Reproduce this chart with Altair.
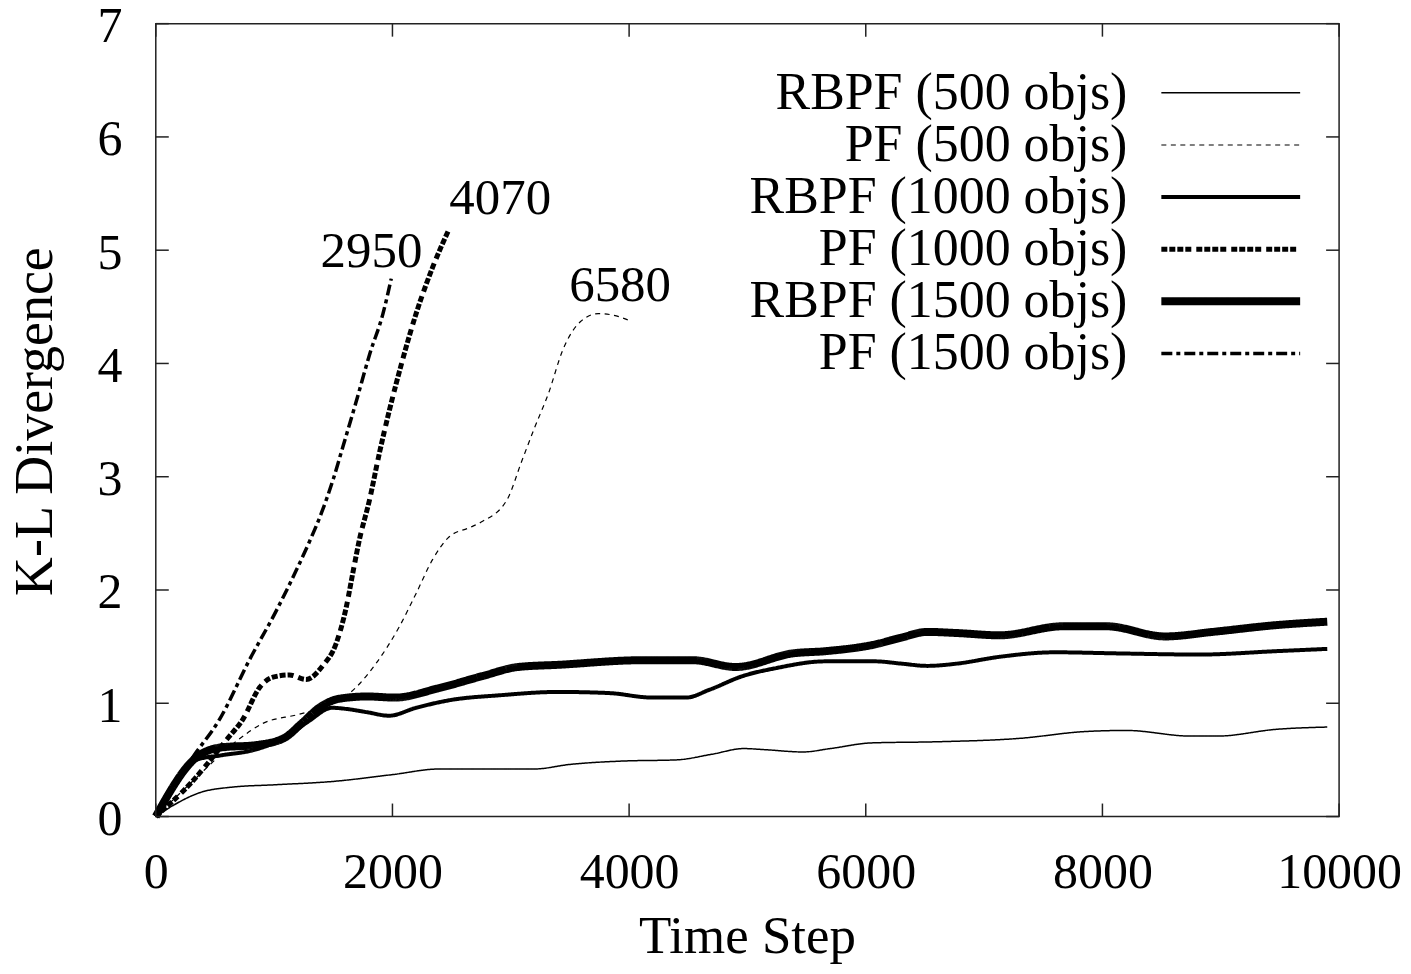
import altair as alt
import pandas as pd

# ---------------- data ----------------
series_names = ["RBPF (500 objs)", "PF (500 objs)", "RBPF (1000 objs)",
                "PF (1000 objs)", "RBPF (1500 objs)", "PF (1500 objs)"]

rbpf500_x = [0, 150, 370, 650, 1000, 1500, 2000, 2400, 2850, 3200, 3500, 3950, 4400,
             4700, 4970, 5150, 5470, 5700, 6050, 6600, 7300, 7850, 8200, 8750, 8970, 9470, 9900]
rbpf500_y = [0, 0.10, 0.21, 0.26, 0.28, 0.31, 0.37, 0.42, 0.42, 0.42, 0.46, 0.49, 0.50,
             0.55, 0.60, 0.59, 0.57, 0.60, 0.65, 0.66, 0.69, 0.75, 0.76, 0.71, 0.71, 0.77, 0.79]

pf500_x = [0, 300, 700, 900, 1200, 1400, 1640, 1860, 2060, 2200, 2340, 2480, 2650, 2750,
           2970, 3090, 3200, 3320, 3440, 3590, 3740, 3850, 4000]
pf500_y = [0, 0.30, 0.68, 0.82, 0.90, 0.96, 1.09, 1.35, 1.68, 1.97, 2.27, 2.47, 2.55, 2.60,
           2.80, 3.13, 3.43, 3.74, 4.12, 4.37, 4.44, 4.43, 4.38]

rbpf1000_x = [0, 340, 550, 840, 1080, 1290, 1490, 1610, 1790, 1970, 2200, 2500, 2900,
              3400, 3830, 4200, 4480, 4680, 4960, 5240, 5660, 6080, 6300, 6520,
              6770, 7130, 7600, 8140, 8820, 9470, 9900]
rbpf1000_y = [0, 0.50, 0.54, 0.59, 0.69, 0.84, 0.96, 0.95, 0.92, 0.89, 0.96, 1.03, 1.07,
              1.10, 1.09, 1.05, 1.05, 1.12, 1.24, 1.31, 1.37, 1.37, 1.35, 1.33,
              1.35, 1.41, 1.45, 1.44, 1.43, 1.46, 1.48]

pf1000_x = [0, 300, 600, 737, 878, 990, 1130, 1270, 1410, 1525, 1610, 1665, 1720, 1805,
            1890, 1975, 2085, 2200, 2340, 2480]
pf1000_y = [0, 0.30, 0.68, 0.86, 1.14, 1.23, 1.25, 1.21, 1.33, 1.53, 1.85, 2.15, 2.44, 2.79,
            3.21, 3.59, 4.03, 4.44, 4.85, 5.19]

rbpf1500_x = [0, 340, 550, 840, 1080, 1230, 1380, 1550, 1790, 2020, 2380, 2760, 3060,
              3410, 4110, 4540, 4900, 5380, 5660, 6080, 6300, 6520, 6770, 7130, 7670,
              8030, 8530, 8930, 9470, 9900]
rbpf1500_y = [0, 0.52, 0.61, 0.63, 0.69, 0.82, 0.96, 1.04, 1.06, 1.05, 1.13, 1.24, 1.32,
              1.34, 1.38, 1.38, 1.32, 1.44, 1.46, 1.52, 1.58, 1.63, 1.62, 1.60, 1.68,
              1.68, 1.59, 1.63, 1.69, 1.72]

pf1500_x = [0, 310, 540, 790, 1020, 1190, 1300, 1400, 1500, 1580, 1690, 1810, 1920, 1990]
pf1500_y = [0, 0.52, 0.86, 1.38, 1.82, 2.18, 2.43, 2.68, 2.98, 3.26, 3.65, 4.09, 4.44, 4.75]

x_ticks = [0, 2000, 4000, 6000, 8000, 10000]
y_ticks = [0, 1, 2, 3, 4, 5, 6, 7]

annot_text = ["2950", "4070", "6580"]
annot_x = [1823, 2911, 3924]
annot_y = [4.85, 5.32, 4.55]

# ---------------- styles / layout ----------------
W, H = 1185, 794
XMAX, YMAX = 10000, 7
FONT = "Liberation Serif"
INK = "#000000"

styles = [
    dict(width=1.5, dash=[1, 0]),
    dict(width=1.2, dash=[5, 4.5]),
    dict(width=4, dash=[1, 0]),
    dict(width=5, dash=[6, 2, 6, 2, 6, 2, 6, 5]),
    dict(width=8, dash=[1, 0]),
    dict(width=3.5, dash=[11, 4, 4, 4]),
]

xs = [rbpf500_x, pf500_x, rbpf1000_x, pf1000_x, rbpf1500_x, pf1500_x]
ys = [rbpf500_y, pf500_y, rbpf1000_y, pf1000_y, rbpf1500_y, pf1500_y]

xscale = alt.Scale(domain=[0, XMAX], nice=False, zero=False)
yscale = alt.Scale(domain=[0, YMAX], nice=False, zero=False)

xaxis = alt.Axis(values=x_ticks, title="Time Step", format="d", ticks=False, tickSize=0,
                 domain=False, grid=False, labelPadding=71, labelBaseline="alphabetic",
                 labelFlush=False, labelOverlap=False, labelFont=FONT, labelFontSize=50,
                 labelColor=INK, titleFont=FONT, titleFontSize=53, titleFontWeight="normal",
                 titleColor=INK, titleX=592, titleY=136, titleBaseline="alphabetic",
                 titleAlign="center")
yaxis = alt.Axis(values=y_ticks, title="K-L Divergence", ticks=False, tickSize=0,
                 domain=False, grid=False, labelPadding=34, labelOffset=3, labelFont=FONT,
                 labelFontSize=50, labelColor=INK, labelOverlap=False, labelFlush=False,
                 titleFont=FONT, titleFontSize=54, titleFontWeight="normal", titleColor=INK,
                 titleX=-104, titleY=398, titleAngle=270, titleBaseline="alphabetic",
                 titleAlign="center")

X = alt.X("x:Q", scale=xscale, axis=xaxis)
Y = alt.Y("y:Q", scale=yscale, axis=yaxis)

layers = []

# data lines
for name, sx, sy, st in zip(series_names, xs, ys, styles):
    df = pd.DataFrame({"x": sx, "y": sy})
    layers.append(
        alt.Chart(df).mark_line(color=INK, strokeWidth=st["width"], strokeDash=st["dash"],
                                interpolate="monotone", strokeCap="butt")
        .encode(x=X, y=Y)
    )

# inward ticks on all four sides
xt = pd.DataFrame({"x": x_ticks})
yt = pd.DataFrame({"y": y_ticks})
TICK = 13
layers.append(alt.Chart(xt).mark_rule(color="#222", strokeWidth=1.5)
              .encode(x=X, y=alt.value(H), y2=alt.value(H - TICK)))
layers.append(alt.Chart(xt).mark_rule(color="#222", strokeWidth=1.5)
              .encode(x=X, y=alt.value(0), y2=alt.value(TICK)))
layers.append(alt.Chart(yt).mark_rule(color="#222", strokeWidth=1.5)
              .encode(y=Y, x=alt.value(0), x2=alt.value(TICK)))
layers.append(alt.Chart(yt).mark_rule(color="#222", strokeWidth=1.5)
              .encode(y=Y, x=alt.value(W), x2=alt.value(W - TICK)))

# annotations
ann = pd.DataFrame({"x": annot_x, "y": annot_y, "t": annot_text})
layers.append(alt.Chart(ann).mark_text(font=FONT, fontSize=51, color=INK, align="center",
                                       baseline="alphabetic")
              .encode(x=X, y=Y, text="t:N"))

# legend (inside the plot, top right): text right-aligned, sample line to the right
LEG_TEXT_PX = 973
LEG_LINE_PX = (1007, 1146)
LEG_ROW0, LEG_STEP = 69.3, 52.2


def px_to_x(p):
    return p / W * XMAX


def py_to_y(p):
    return YMAX - p / H * YMAX


leg_rows = [py_to_y(LEG_ROW0 + i * LEG_STEP) for i in range(len(series_names))]
leg_text = pd.DataFrame({"x": [px_to_x(LEG_TEXT_PX)] * len(series_names),
                         "y": leg_rows, "t": series_names})
layers.append(alt.Chart(leg_text).mark_text(font=FONT, fontSize=52, color=INK, align="right",
                                            baseline="middle")
              .encode(x=X, y=Y, text="t:N"))
for i, st in enumerate(styles):
    seg = pd.DataFrame({"x": [px_to_x(LEG_LINE_PX[0])], "x2": [px_to_x(LEG_LINE_PX[1])],
                        "y": [leg_rows[i]]})
    layers.append(alt.Chart(seg).mark_rule(color=INK, strokeWidth=st["width"],
                                           strokeDash=st["dash"], strokeCap="butt")
                  .encode(x=X, x2="x2:Q", y=Y))

chart = (
    alt.layer(*layers)
    .properties(width=W, height=H, autosize=alt.AutoSizeParams(type="none"),
                padding={"left": 148, "top": 15, "right": 64, "bottom": 147},
                background="white")
    .configure_view(stroke="#222", strokeWidth=1.5)
)

chart.save("out.html", embed_options={"renderer": "svg", "actions": False})
